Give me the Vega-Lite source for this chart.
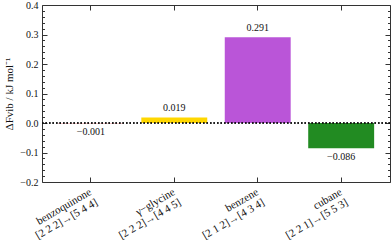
{
  "$schema": "https://vega.github.io/schema/vega-lite/v6.json",
  "width": 348,
  "height": 177,
  "autosize": "none",
  "padding": {"left": 42, "top": 5, "right": 2, "bottom": 62},
  "background": "white",
  "config": {
    "font": "Liberation Serif",
    "view": {"stroke": "#333333", "strokeWidth": 1},
    "axis": {"labelFont": "Liberation Serif", "titleFont": "Liberation Serif", "labelColor": "#111", "titleColor": "#111", "labelFontSize": 10, "domain": false, "grid": false, "tickColor": "#333333", "titleFontWeight": "normal"}
  },
  "data": {
    "values": [
      {"mol": "benzoquinone\n[2 2 2]→[5 4 4]", "v": -0.001, "lab": "−0.001", "c": "#d62728"},
      {"mol": "γ−glycine\n[2 2 2]→[4 4 5]", "v": 0.019, "lab": "0.019", "c": "#FFD700"},
      {"mol": "benzene\n[2 1 2]→[4 3 4]", "v": 0.291, "lab": "0.291", "c": "#BA55D8"},
      {"mol": "cubane\n[2 2 1]→[5 5 3]", "v": -0.086, "lab": "−0.086", "c": "#228B22"}
    ]
  },
  "resolve": {"axis": {"x": "independent", "y": "independent"}},
  "layer": [
    {
      "mark": {"type": "bar"},
      "encoding": {
        "x": {"field": "mol", "type": "nominal", "sort": null,
          "scale": {"paddingInner": 0.21, "paddingOuter": 0.19},
          "axis": {"orient": "bottom", "title": null, "ticks": false, "labelAngle": -30, "labelAlign": "right", "labelBaseline": "middle", "labelPadding": 9, "labelFontSize": 11, "labelExpr": "split(datum.value, '\\n')", "labelLineHeight": 12}},
        "y": {"field": "v", "type": "quantitative",
          "scale": {"domain": [-0.2, 0.4], "nice": false, "zero": false},
          "axis": {"orient": "left", "title": "ΔFvib / kJ mol⁻¹", "titleFontSize": 11, "titlePadding": 5, "values": [-0.2, -0.1, 0, 0.1, 0.2, 0.3, 0.4], "format": ".1f", "ticks": false, "labelPadding": 4}},
        "color": {"field": "c", "type": "nominal", "scale": null}
      }
    },
    {
      "transform": [{"filter": "datum.v > 0"}],
      "mark": {"type": "text", "baseline": "bottom", "dy": -4, "fontSize": 10, "font": "Liberation Serif", "color": "#111"},
      "encoding": {
        "x": {"field": "mol", "type": "nominal", "sort": null,
          "axis": {"orient": "top", "title": null, "labels": false, "ticks": true, "tickSize": -5}},
        "y": {"field": "v", "type": "quantitative",
          "axis": {"orient": "left", "title": null, "labels": false, "values": [-0.2, -0.1, 0, 0.1, 0.2, 0.3, 0.4], "tickSize": -5}},
        "text": {"field": "lab"}
      }
    },
    {
      "transform": [{"filter": "datum.v < 0"}],
      "mark": {"type": "text", "baseline": "top", "dy": 4, "fontSize": 10, "font": "Liberation Serif", "color": "#111"},
      "encoding": {
        "x": {"field": "mol", "type": "nominal", "sort": null,
          "axis": {"orient": "bottom", "title": null, "labels": false, "ticks": true, "tickSize": -5}},
        "y": {"field": "v", "type": "quantitative",
          "axis": {"orient": "right", "title": null, "labels": false, "values": [-0.2, -0.1, 0, 0.1, 0.2, 0.3, 0.4], "tickSize": -5}},
        "text": {"field": "lab"}
      }
    },
    {
      "mark": {"type": "rule", "strokeDash": [1.5, 2], "color": "#111", "strokeWidth": 1},
      "encoding": {
        "y": {"datum": 0, "type": "quantitative",
          "axis": {"orient": "left", "title": null, "labels": false, "values": [-0.18, -0.16, -0.14, -0.12, -0.08, -0.06, -0.04, -0.02, 0.02, 0.04, 0.06, 0.08, 0.12, 0.14, 0.16, 0.18, 0.22, 0.24, 0.26, 0.28, 0.32, 0.34, 0.36, 0.38], "tickSize": -2.5}}
      }
    },
    {
      "mark": {"type": "rule", "opacity": 0},
      "encoding": {
        "y": {"datum": 0, "type": "quantitative",
          "axis": {"orient": "right", "title": null, "labels": false, "values": [-0.18, -0.16, -0.14, -0.12, -0.08, -0.06, -0.04, -0.02, 0.02, 0.04, 0.06, 0.08, 0.12, 0.14, 0.16, 0.18, 0.22, 0.24, 0.26, 0.28, 0.32, 0.34, 0.36, 0.38], "tickSize": -2.5}}
      }
    }
  ]
}
